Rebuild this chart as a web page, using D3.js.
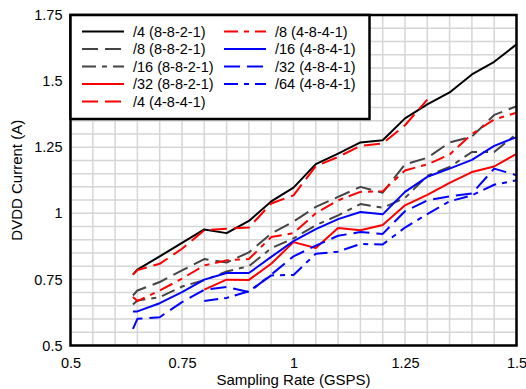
<!DOCTYPE html>
<html>
<head>
<meta charset="utf-8">
<script src="https://cdn.jsdelivr.net/npm/d3@7"></script>
<style>
  html, body { margin: 0; padding: 0; background: #fff; }
  svg { display: block; font-family: "Liberation Sans", Arial, sans-serif; }
</style>
</head>
<body>
<svg id="chart" width="526" height="389"></svg>
<script>
// ---------- data ----------
const samplingRates = [0.64, 0.65, 0.7, 0.75, 0.8, 0.85, 0.9, 0.95, 1.0, 1.05, 1.1, 1.15, 1.2, 1.25, 1.3, 1.35, 1.4, 1.45, 1.5];

const div4_8821  = [0.768, 0.787, 0.837, 0.888, 0.939, 0.925, 0.971, 1.045, 1.097, 1.186, 1.226, 1.268, 1.276, 1.359, 1.412, 1.457, 1.525, 1.573, 1.639];
const div8_8821  = [0.689, 0.708, 0.740, 0.784, 0.827, 0.814, 0.852, 0.923, 0.969, 1.024, 1.062, 1.100, 1.078, 1.185, 1.210, 1.268, 1.290, 1.372, 1.405];
const div16_8821 = [0.655, 0.670, 0.683, 0.723, 0.747, 0.780, 0.800, 0.868, 0.905, 0.955, 0.992, 1.035, 1.021, 1.058, 1.142, 1.175, 1.232, 1.232, 1.300];
const div32_8821 = [null, null, null, null, 0.711, 0.749, 0.748, 0.809, 0.891, 0.869, 0.944, 0.936, 0.956, 1.030, 1.070, 1.115, 1.156, 1.177, 1.225];
const div4_4841  = [0.768, 0.785, 0.809, 0.866, 0.936, 0.942, 0.946, 1.037, 1.068, 1.178, 1.213, 1.255, 1.264, 1.333, 1.430, null, null, null, null];
const div8_4841  = [0.683, 0.668, 0.708, 0.753, 0.803, 0.822, 0.827, 0.910, 0.925, 1.000, 1.049, 1.081, 1.083, 1.162, 1.185, 1.222, 1.300, 1.355, 1.380];
const div16_4841 = [0.629, 0.629, 0.660, 0.702, 0.749, 0.774, 0.774, 0.835, 0.895, 0.940, 0.978, 1.005, 0.996, 1.081, 1.138, 1.169, 1.202, 1.255, 1.288];
const div32_4841 = [0.563, 0.601, 0.607, 0.664, 0.711, 0.721, 0.702, 0.768, 0.837, 0.878, 0.915, 0.929, 0.922, 1.008, 1.049, 1.064, 1.075, 1.169, 1.144];
const div64_4841 = [null, null, null, null, 0.668, 0.680, 0.705, 0.765, 0.767, 0.847, 0.855, 0.884, 0.882, 0.946, 0.997, 1.045, 1.068, 1.108, 1.125];

const seriesNames = ["/4 (8-8-2-1)", "/8 (8-8-2-1)", "/16 (8-8-2-1)", "/32 (8-8-2-1)", "/4 (4-8-4-1)",
                     "/8 (4-8-4-1)", "/16 (4-8-4-1)", "/32 (4-8-4-1)", "/64 (4-8-4-1)"];
const seriesValues = [div4_8821, div8_8821, div16_8821, div32_8821, div4_4841, div8_4841, div16_4841, div32_4841, div64_4841];

const xTicks = [0.5, 0.75, 1, 1.25, 1.5];
const yTicks = [0.5, 0.75, 1, 1.25, 1.5, 1.75];
const xTitle = "Sampling Rate (GSPS)";
const yTitle = "DVDD Current (A)";

// ---------- styles ----------
const DASH = "16,7", DASHDOT = "14,6,5,6";
const styles = [
  { color: "#000000", dash: null },
  { color: "#444444", dash: DASH },
  { color: "#444444", dash: DASHDOT },
  { color: "#ff0000", dash: null },
  { color: "#ff0000", dash: DASH },
  { color: "#ff0000", dash: DASHDOT },
  { color: "#0000ff", dash: null },
  { color: "#0000ff", dash: DASH },
  { color: "#0000ff", dash: DASHDOT }
];

const L = 70.5, R = 516.5, T = 15, B = 345.5;
const svg = d3.select("#chart");
const x = d3.scaleLinear().domain([0.5, 1.5]).range([L, R]);
const y = d3.scaleLinear().domain([0.5, 1.75]).range([B, T]);

// grid
const gridX = d3.range(0, 21).map(i => 0.5 + i * 0.05);
const gridY = d3.range(0, 26).map(i => 0.5 + i * 0.05);
const grid = svg.append("g").attr("stroke", "#d6d6d6").attr("stroke-width", 1.5);
grid.selectAll("line.gx").data(gridX).join("line")
  .attr("x1", d => x(d)).attr("x2", d => x(d)).attr("y1", T).attr("y2", B);
grid.selectAll("line.gy").data(gridY).join("line")
  .attr("y1", d => y(d)).attr("y2", d => y(d)).attr("x1", L).attr("x2", R);

// lines
const line = d3.line()
  .defined(d => d[1] != null)
  .x(d => x(d[0])).y(d => y(d[1]));
const plot = svg.append("g");
seriesValues.forEach((vals, i) => {
  const pts = samplingRates.map((r, j) => [r, vals[j]]);
  plot.append("path")
    .attr("d", line(pts))
    .attr("fill", "none")
    .attr("stroke", styles[i].color)
    .attr("stroke-width", 2)
    .attr("stroke-linejoin", "round")
    .attr("stroke-dasharray", styles[i].dash);
});

// axes
const fs = "14.5px";
const xAxis = svg.append("g").attr("transform", `translate(0,${B})`)
  .call(d3.axisBottom(x).tickValues(xTicks).tickSize(0).tickPadding(12).tickFormat(d => String(d)));
const yAxis = svg.append("g").attr("transform", `translate(${L},0)`)
  .call(d3.axisLeft(y).tickValues(yTicks).tickSize(0).tickPadding(8).tickFormat(d => String(d)));
[xAxis, yAxis].forEach(a => {
  a.select(".domain").remove();
  a.selectAll("text").attr("fill", "#000").style("font-size", fs).style("font-family", "Liberation Sans, Arial, sans-serif");
});

// frame
svg.append("rect").attr("x", L).attr("y", T).attr("width", R - L).attr("height", B - T)
  .attr("fill", "none").attr("stroke", "#000").attr("stroke-width", 2.5);

// titles
svg.append("text").attr("x", (L + R) / 2).attr("y", 385).attr("text-anchor", "middle")
  .style("font-size", "15px").text(xTitle);
svg.append("text").attr("transform", `translate(22,${(T + B) / 2}) rotate(-90)`).attr("text-anchor", "middle")
  .style("font-size", "15px").text(yTitle);

// legend
const lg = svg.append("g");
lg.append("rect").attr("x", L).attr("y", T).attr("width", 299).attr("height", 104)
  .attr("fill", "#fff").attr("stroke", "#000").attr("stroke-width", 2.5);
const colX = [{ x1: 82, x2: 124, tx: 133 }, { x1: 224, x2: 266, tx: 275 }];
const rowY0 = 31.5, rowStep = 17.5;
seriesNames.forEach((name, i) => {
  const c = i < 5 ? colX[0] : colX[1];
  const r = i < 5 ? i : i - 5;
  const yy = rowY0 + r * rowStep;
  lg.append("line").attr("x1", c.x1).attr("x2", c.x2).attr("y1", yy).attr("y2", yy)
    .attr("stroke", styles[i].color).attr("stroke-width", 2)
    .attr("stroke-dasharray", styles[i].dash);
  lg.append("text").attr("x", c.tx).attr("y", yy).attr("dy", "0.35em")
    .style("font-size", fs).text(name);
});
</script>
</body>
</html>
